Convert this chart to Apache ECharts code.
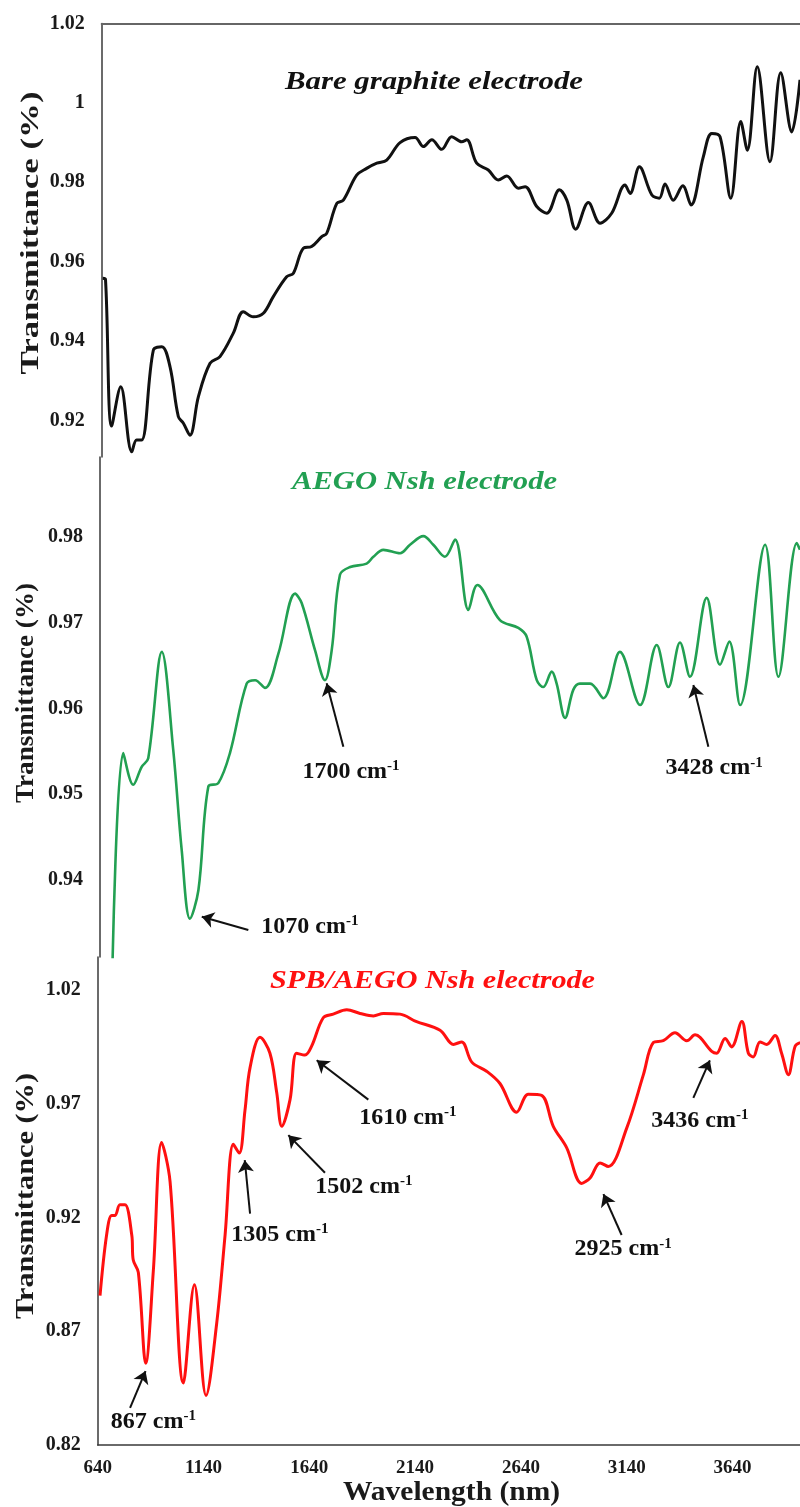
<!DOCTYPE html>
<html><head><meta charset="utf-8">
<script src="https://cdn.jsdelivr.net/npm/echarts@6/dist/echarts.min.js"></script>
<style>html,body{margin:0;padding:0;background:#fff}#c{width:800px;height:1507px}</style>
</head><body><div id="c"></div><script>
// ---------- DATA ----------
const bareX = [645, 658, 687, 730, 782, 805, 829, 884, 924, 963,
  1002, 1026, 1057, 1097, 1152, 1199, 1262, 1309, 1356, 1404,
  1451, 1514, 1546, 1593, 1632, 1680, 1703, 1751, 1782, 1845,
  1892, 1940, 1987, 2050, 2121, 2160, 2200, 2247, 2294, 2341,
  2365, 2412, 2467, 2514, 2554, 2609, 2641, 2696, 2743, 2803,
  2838, 2880, 2940, 2995, 3050, 3113, 3137, 3181, 3240, 3275,
  3302, 3341, 3386, 3425, 3483, 3523, 3562, 3613, 3660, 3691,
  3738, 3798, 3849, 3901, 3940];
const bareY = [0.9558, 0.9555, 0.9186, 0.9285, 0.9121, 0.9151, 0.9151, 0.9377, 0.9386, 0.9335,
  0.9210, 0.9193, 0.9163, 0.9260, 0.9344, 0.9361, 0.9420, 0.9474, 0.9461, 0.9470,
  0.9512, 0.9562, 0.9571, 0.9634, 0.9638, 0.9663, 0.9671, 0.9747, 0.9755, 0.9818,
  0.9835, 0.9848, 0.9856, 0.9900, 0.9913, 0.9890, 0.9907, 0.9883, 0.9915, 0.9902,
  0.9907, 0.9848, 0.9831, 0.9806, 0.9816, 0.9785, 0.9789, 0.9739, 0.9722, 0.9781,
  0.9755, 0.9682, 0.9749, 0.9697, 0.9722, 0.9793, 0.9772, 0.9839, 0.9768, 0.9760,
  0.9796, 0.9755, 0.9791, 0.9743, 0.9864, 0.9923, 0.9915, 0.9760, 0.9953, 0.9881,
  1.0091, 0.9852, 1.0076, 0.9927, 1.0058];

const aegoX = [698, 750, 797, 837, 868, 932, 986, 1026, 1065, 1105,
  1152, 1199, 1254, 1333, 1373, 1420, 1483, 1562, 1593, 1656,
  1703, 1735, 1774, 1822, 1900, 1932, 1979, 2058, 2105, 2168,
  2215, 2270, 2318, 2381, 2423, 2530, 2617, 2656, 2704, 2735,
  2775, 2798, 2838, 2877, 2908, 2956, 3019, 3097, 3192, 3271,
  3326, 3381, 3428, 3507, 3570, 3614, 3665, 3783, 3846, 3933,
  3948];
const aegoY = [0.9290, 0.9548, 0.9511, 0.9532, 0.9542, 0.9666, 0.9552, 0.9435, 0.9355, 0.9388,
  0.9509, 0.9513, 0.9548, 0.9629, 0.9633, 0.9624, 0.9664, 0.9734, 0.9723, 0.9668,
  0.9633, 0.9668, 0.9756, 0.9765, 0.9769, 0.9777, 0.9785, 0.9781, 0.9791, 0.9801,
  0.9791, 0.9777, 0.9797, 0.9715, 0.9744, 0.9703, 0.9694, 0.9684, 0.9633, 0.9625,
  0.9643, 0.9629, 0.9589, 0.9622, 0.9629, 0.9629, 0.9612, 0.9666, 0.9604, 0.9674,
  0.9625, 0.9677, 0.9637, 0.9729, 0.9651, 0.9678, 0.9604, 0.9791, 0.9637, 0.9793,
  0.9785];

const spbX = [651, 682, 706, 722, 745, 769, 801, 808, 832, 867,
  903, 942, 982, 1045, 1097, 1152, 1202, 1242, 1281, 1309,
  1336, 1360, 1407, 1454, 1486, 1510, 1549, 1580, 1620, 1651,
  1706, 1753, 1817, 1880, 1943, 1990, 2069, 2144, 2258, 2321,
  2360, 2408, 2478, 2541, 2620, 2675, 2738, 2793, 2856, 2927,
  2967, 3014, 3053, 3140, 3219, 3266, 3313, 3368, 3424, 3463,
  3542, 3565, 3605, 3636, 3684, 3715, 3738, 3770, 3802, 3841,
  3872, 3904, 3936, 3960];
const spbY = [0.8857, 0.9123, 0.9209, 0.9209, 0.9256, 0.9256, 0.9123, 0.9013, 0.8959, 0.8559,
  0.8967, 0.9530, 0.9358, 0.8473, 0.8904, 0.8418, 0.8732, 0.9123, 0.9522, 0.9483,
  0.9671, 0.9859, 0.9992, 0.9922, 0.9749, 0.9601, 0.9718, 0.9922, 0.9914, 0.9953,
  1.0078, 1.0094, 1.0113, 1.0097, 1.0086, 1.0097, 1.0094, 1.0062, 1.0023, 0.9961,
  0.9972, 0.9883, 0.9843, 0.9789, 0.9663, 0.9742, 0.9737, 0.9601, 0.9507, 0.9350,
  0.9374, 0.9440, 0.9424, 0.9593, 0.9828, 0.9969, 0.9977, 1.0012, 0.9977, 1.0003,
  0.9930, 0.9922, 0.9987, 0.9950, 1.0062, 0.9922, 0.9906, 0.9972, 0.9961, 1.0000,
  0.9922, 0.9828, 0.9953, 0.9969];

const xTicks = [640, 1140, 1640, 2140, 2640, 3140, 3640];
const yTicks1 = [0.92, 0.94, 0.96, 0.98, 1, 1.02];
const yTicks2 = [0.94, 0.95, 0.96, 0.97, 0.98];
const yTicks3 = [0.82, 0.87, 0.92, 0.97, 1.02];

const panelTitles = ['Bare graphite electrode', 'AEGO Nsh electrode', 'SPB/AEGO Nsh electrode'];
const yTitle = 'Transmittance (%)';
const xTitle = 'Wavelength (nm)';

// annotation peaks (cm-1) with label / arrow positions in data units
const notes2Labels = ['1070', '1700', '3428'];
const notes2Text = [[1632, 0.93455], [1826, 0.95263], [3542, 0.95303]];
const notes2From = [[1341, 0.93417], [1790, 0.95554], [3515, 0.95554]];
const notes2To = [[1121, 0.93572], [1711, 0.96294], [3444, 0.96274]];

const notes3Labels = ['867', '1305', '1502', '1610', '2925', '3436'];
const notes3Text = [[903, 0.8302], [1501, 0.9123], [1898, 0.9334], [2106, 0.9640], [3123, 0.9061], [3486, 0.9624]];
const notes3From = [[793, 0.8363], [1360, 0.9217], [1714, 0.9397], [1919, 0.9718], [3116, 0.9123], [3455, 0.9726]];
const notes3To = [[866, 0.8525], [1335, 0.9452], [1541, 0.9562], [1675, 0.9891], [3030, 0.9303], [3533, 0.9891]];

// ---------- LAYOUT ----------
const W = 800;
const grids = [
  {left: 101.7, top: 23.5, height: 433.5},
  {left: 100, top: 457, height: 500},
  {left: 97.7, top: 957, height: 488}
];
const yRanges = [[0.9108, 1.02], [0.93102, 0.98933], [0.82, 1.03451]];
const xMax = [3940, 3948, 3959];
const colors = ['#111111', '#22a052', '#ff1010'];
const serif = '"Liberation Serif", "Times New Roman", serif';

const zip = (a, b) => a.map((v, i) => [v, b[i]]);
const fmt = v => String(+(+v).toFixed(2));
const fmtX = v => (xTicks.indexOf(Math.round(+v)) >= 0 ? String(Math.round(+v)) : '');

function fitScale(text, font, target) {
  const ctx = document.createElement('canvas').getContext('2d');
  ctx.font = font;
  return target / ctx.measureText(text).width;
}

const labelStyle = {fontFamily: serif, fontWeight: 'bold', fontSize: 20, color: '#1a1a1a'};
const axisLineStyle = {color: '#3a3a3a', width: 1.5};

const richNote = {
  a: {fontFamily: serif, fontWeight: 'bold', fontSize: 24, color: '#111', lineHeight: 26},
  s: {fontFamily: serif, fontWeight: 'bold', fontSize: 15, color: '#111', lineHeight: 15, verticalAlign: 'top'}
};

function markLines(from, to) {
  return {
    silent: true, symbol: ['none', 'arrow'], symbolSize: 12, animation: false,
    label: {show: false},
    lineStyle: {color: '#111', width: 2, type: 'solid'},
    emphasis: {disabled: true},
    data: from.map((f, i) => [{coord: f}, {coord: to[i]}])
  };
}
function markPoints(labels, pos) {
  return {
    silent: true, symbol: 'circle', symbolSize: 0, animation: false,
    itemStyle: {color: 'rgba(0,0,0,0)'},
    label: {show: true, position: 'inside', color: '#111'},
    data: labels.map((t, i) => ({
      coord: pos[i],
      label: {formatter: '{a|' + t + ' cm}{s|-1}', rich: richNote}
    }))
  };
}

const yTicks = [yTicks1, yTicks2, yTicks3];

const option = {
  animation: false,
  backgroundColor: '#fff',
  grid: grids.map(g => ({left: g.left, top: g.top, height: g.height, width: W - g.left})),
  xAxis: grids.map((g, i) => ({
    type: 'value', gridIndex: i, min: 640, max: xMax[i],
    position: i === 0 ? 'top' : 'bottom',
    axisLine: {show: i !== 1, onZero: false, lineStyle: i === 0 ? {color: '#666', width: 2} : axisLineStyle},
    axisTick: {show: false},
    splitLine: {show: false},
    axisLabel: i === 2 ? {customValues: xTicks, margin: 14, fontSize: 19, formatter: fmtX,
      fontFamily: serif, fontWeight: 'bold', color: '#1a1a1a'} : {show: false}
  })),
  yAxis: grids.map((g, i) => ({
    type: 'value', gridIndex: i, min: yRanges[i][0], max: yRanges[i][1],
    axisLine: {show: true, onZero: false, lineStyle: axisLineStyle},
    axisTick: {show: false},
    splitLine: {show: false},
    axisLabel: Object.assign({customValues: yTicks[i], margin: 17, formatter: fmt}, labelStyle)
  })),
  series: [
    {type: 'line', xAxisIndex: 0, yAxisIndex: 0, data: zip(bareX, bareY), showSymbol: false, smooth: 0.35,
     lineStyle: {color: colors[0], width: 3}, itemStyle: {color: colors[0]}},
    {type: 'line', xAxisIndex: 1, yAxisIndex: 1, data: zip(aegoX, aegoY), showSymbol: false, smooth: 0.35,
     lineStyle: {color: colors[1], width: 2.6}, itemStyle: {color: colors[1]},
     markLine: markLines(notes2From, notes2To), markPoint: markPoints(notes2Labels, notes2Text)},
    {type: 'line', xAxisIndex: 2, yAxisIndex: 2, data: zip(spbX, spbY), showSymbol: false, smooth: 0.35,
     lineStyle: {color: colors[2], width: 3}, itemStyle: {color: colors[2]},
     markLine: markLines(notes3From, notes3To), markPoint: markPoints(notes3Labels, notes3Text)}
  ]
};

// titles drawn as stretched text to match the reference proportions
const titleFont = 'italic bold 25px ' + serif;
const titlePos = [[434, 83, 298], [424.5, 483, 265], [432.5, 982, 325]];
const yTitleFont = 'bold 26px ' + serif;
const yTitlePos = [[31.5, 233, 283], [26, 693, 220], [26, 1196, 246]];
const xTitleFont = 'bold 28px ' + serif;

function textEl(text, font, fill, x, y, target, rot) {
  return {
    type: 'text', x: x, y: y, rotation: rot || 0, scaleX: fitScale(text, font, target), scaleY: 1, silent: true,
    style: {text: text, font: font, fill: fill, align: 'center', verticalAlign: 'middle', textAlign: 'center', textVerticalAlign: 'middle'}
  };
}
const graphics = [];
panelTitles.forEach((t, i) => graphics.push(textEl(t, titleFont, colors[i], titlePos[i][0], titlePos[i][1], titlePos[i][2])));
yTitlePos.forEach(p => graphics.push(textEl(yTitle, yTitleFont, '#1a1a1a', p[0], p[1], p[2], Math.PI / 2)));
graphics.push(textEl(xTitle, xTitleFont, '#1a1a1a', 451.5, 1493, 217));
option.graphic = {elements: graphics};

const chart = echarts.init(document.getElementById('c'), null, {renderer: 'canvas'});
chart.setOption(option);
</script></body></html>
